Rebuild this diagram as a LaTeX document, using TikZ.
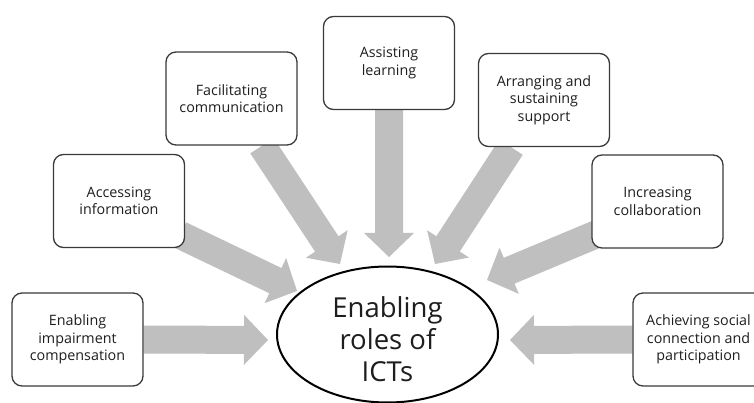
\documentclass[tikz,border=0pt]{standalone}
\usepackage{fontspec}
\setmainfont{Open Sans}
\usetikzlibrary{calc,shapes.geometric,backgrounds}
\definecolor{arrowgray}{HTML}{BFBFBF}
\definecolor{boxline}{HTML}{3A3A3A}
\definecolor{txt}{HTML}{1E1E1E}
% block arrow: #1 start coordinate, #2 tip coordinate, #3 unique name
\newcommand\blockarrow[3]{%
  \coordinate (#3h) at ($(#2)!24pt!(#1)$);
  \fill[arrowgray] ($(#1)!14pt!90:(#2)$) -- ($(#3h)!14pt!90:(#2)$) -- ($(#3h)!25pt!90:(#2)$)
    -- (#2) -- ($(#3h)!25pt!-90:(#2)$) -- ($(#3h)!14pt!-90:(#2)$) -- ($(#1)!14pt!-90:(#2)$) -- cycle;}
\begin{document}
\begin{tikzpicture}[x=1pt,y=1pt,
  role/.style={draw=boxline, line width=1.3pt, rounded corners=10pt, fill=white,
    minimum width=131pt, minimum height=93pt, align=center, text=txt,
    font=\fontsize{14.3}{17.5}\selectfont, inner sep=2pt},
  hub/.style={ellipse, draw=black, line width=2pt, fill=white,
    minimum width=221pt, minimum height=136pt, inner sep=0pt},
  hubtext/.style={align=center, text=txt, font=\fontsize{27.5}{32}\selectfont, inner sep=0pt}]
\useasboundingbox (0,0) rectangle (754,-403);
\clip (0,0) rectangle (754,-403);

\node[role] (b1) at (77.5,-339.5) {Enabling\\impairment\\compensation};
\node[role] (b2) at (119,-201) {Accessing\\information};
\node[role] (b3) at (231.5,-98.5) {Facilitating\\communication};
\node[role] (b4) at (389,-63) {Assisting\\learning};
\node[role] (b5) at (544,-100) {Arranging and\\sustaining\\support};
\node[role] (b6) at (657.5,-201.5) {Increasing\\collaboration};
\node[role] (b7) at (698.5,-339.5) {Achieving social\\connection and\\participation};
\node[hub] (hub) at (387.5,-334.5) {};
\node[hubtext] (hubtxt) at ($(hub.center)+(0,-5)$) {Enabling\\roles of\\ICTs};

\coordinate (s1) at (b1.east);
\coordinate (s2) at ($(b2.east)+(-5,-34)$);
\coordinate (s3) at ($(b3.south)+(30.5,0)$);
\coordinate (s4) at (b4.south);
\coordinate (s5) at ($(b5.south)+(-33,0)$);
\coordinate (s6) at ($(b6.west)+(8,-31.5)$);
\coordinate (s7) at (b7.west);

\coordinate (t1) at (268,-340);
\coordinate (t2) at (297,-291);
\coordinate (t3) at (340,-264);
\coordinate (t4) at (389,-257);
\coordinate (t5) at (435,-264);
\coordinate (t6) at (487,-280);
\coordinate (t7) at (510,-340);

\begin{scope}[on background layer]
\blockarrow{s1}{t1}{a1}
\blockarrow{s2}{t2}{a2}
\blockarrow{s3}{t3}{a3}
\blockarrow{s4}{t4}{a4}
\blockarrow{s5}{t5}{a5}
\blockarrow{s6}{t6}{a6}
\blockarrow{s7}{t7}{a7}
\end{scope}
\end{tikzpicture}
\end{document}
